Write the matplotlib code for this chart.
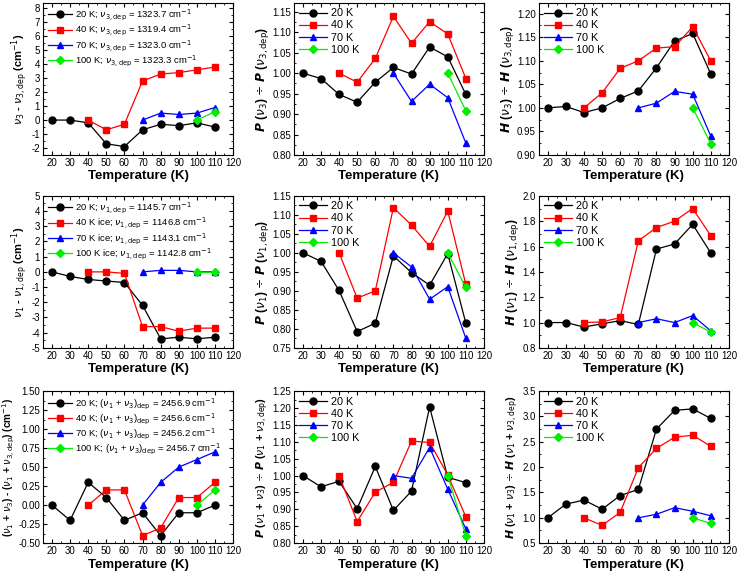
import matplotlib
matplotlib.use('Agg')
import matplotlib.pyplot as plt
from matplotlib.ticker import MultipleLocator

plt.rcParams['font.family'] = ['Liberation Sans', 'DejaVu Sans']
plt.rcParams['mathtext.fontset'] = 'dejavusans'

# deposition temperatures and the annealing temperatures each series covers
t20 = [20, 30, 40, 50, 60, 70, 80, 90, 100, 110]
t40 = [40, 50, 60, 70, 80, 90, 100, 110]
t70 = [70, 80, 90, 100, 110]
t100 = [100, 110]
series_names = ['20 K', '40 K', '70 K', '100 K']

# row 1: nu3
v3_20 = [0, 0, -0.2, -1.7, -1.9, -0.7, -0.3, -0.4, -0.2, -0.5]
v3_40 = [0, -0.7, -0.3, 2.8, 3.3, 3.4, 3.6, 3.8]
v3_70 = [0, 0.5, 0.4, 0.5, 0.9]
v3_100 = [0, 0.6]
p3_20 = [1.000, 0.987, 0.948, 0.929, 0.978, 1.014, 0.998, 1.064, 1.040, 0.948]
p3_40 = [1.000, 0.978, 1.036, 1.139, 1.073, 1.126, 1.096, 0.987]
p3_70 = [1.000, 0.931, 0.973, 0.940, 0.829]
p3_100 = [1.000, 0.908]
h3_20 = [1.000, 1.003, 0.990, 1.000, 1.020, 1.036, 1.085, 1.142, 1.158, 1.072]
h3_40 = [1.000, 1.032, 1.084, 1.100, 1.127, 1.130, 1.172, 1.100]
h3_70 = [1.000, 1.010, 1.035, 1.029, 0.940]
h3_100 = [1.000, 0.924]

# row 2: nu1
v1_20 = [0, -0.3, -0.5, -0.6, -0.7, -2.2, -4.4, -4.3, -4.4, -4.3]
v1_40 = [0, 0, -0.1, -3.6, -3.6, -3.9, -3.7, -3.7]
v1_70 = [0, 0.1, 0.1, 0, 0]
v1_100 = [0, 0]
p1_20 = [1.000, 0.978, 0.901, 0.793, 0.815, 0.992, 0.948, 0.915, 0.998, 0.815]
p1_40 = [1.000, 0.881, 0.900, 1.119, 1.073, 1.017, 1.110, 0.917]
p1_70 = [1.000, 0.963, 0.878, 0.911, 0.775]
p1_100 = [1.000, 0.909]
h1_20 = [1.0, 1.0, 0.965, 0.99, 1.015, 0.985, 1.58, 1.62, 1.775, 1.55]
h1_40 = [1.0, 1.005, 1.04, 1.645, 1.75, 1.80, 1.90, 1.685]
h1_70 = [1.0, 1.03, 1.0, 1.055, 0.935]
h1_100 = [1.0, 0.925]

# row 3: nu1 + nu3
vc_20 = [0, -0.2, 0.3, 0.1, -0.2, -0.1, -0.4, -0.1, -0.1, 0]
vc_40 = [0, 0.2, 0.2, -0.4, -0.3, 0.1, 0.1, 0.3]
vc_70 = [0, 0.3, 0.5, 0.6, 0.7]
vc_100 = [0, 0.2]
pc_20 = [1.000, 0.967, 0.983, 0.902, 1.027, 0.897, 0.954, 1.203, 0.995, 0.979]
pc_40 = [1.000, 0.864, 0.951, 0.980, 1.102, 1.098, 1.002, 0.878]
pc_70 = [1.000, 0.992, 1.083, 0.960, 0.842]
pc_100 = [1.000, 0.822]
hc_20 = [1.0, 1.27, 1.35, 1.17, 1.44, 1.56, 2.75, 3.12, 3.15, 2.96]
hc_40 = [1.0, 0.85, 1.11, 1.99, 2.37, 2.59, 2.63, 2.41]
hc_70 = [1.0, 1.07, 1.20, 1.13, 1.04]
hc_100 = [1.0, 0.89]

leg_v3 = [r'20 K; $\nu_{3,\mathrm{dep}}$ = 1323.7 cm$^{-1}$',
          r'40 K; $\nu_{3,\mathrm{dep}}$ = 1319.4 cm$^{-1}$',
          r'70 K; $\nu_{3,\mathrm{dep}}$ = 1323.0 cm$^{-1}$',
          r'100 K; $\nu_{3,\mathrm{dep}}$ = 1323.3 cm$^{-1}$']
leg_v1 = [r'20 K; $\nu_{1,\mathrm{dep}}$ = 1145.7 cm$^{-1}$',
          r'40 K ice; $\nu_{1,\mathrm{dep}}$ = 1146.8 cm$^{-1}$',
          r'70 K ice; $\nu_{1,\mathrm{dep}}$ = 1143.1 cm$^{-1}$',
          r'100 K ice; $\nu_{1,\mathrm{dep}}$ = 1142.8 cm$^{-1}$']
leg_vc = [r'20 K; ($\nu_1$ + $\nu_3$)$_\mathrm{dep}$ = 2456.9 cm$^{-1}$',
          r'40 K; ($\nu_1$ + $\nu_3$)$_\mathrm{dep}$ = 2456.6 cm$^{-1}$',
          r'70 K; ($\nu_1$ + $\nu_3$)$_\mathrm{dep}$ = 2456.2 cm$^{-1}$',
          r'100 K; ($\nu_1$ + $\nu_3$)$_\mathrm{dep}$ = 2456.7 cm$^{-1}$']

colors = ['black', '#ff0000', '#0000ff', '#00ee00']
markers = ['o', 's', '^', 'D']
msizes = [5, 4.5, 5, 4.2]
temps = [t20, t40, t70, t100]

panels = [
    ([v3_20, v3_40, v3_70, v3_100], leg_v3, r'$\nu_3$ - $\nu_{3,\mathrm{dep}}$ (cm$^{-1}$)', (-2.5, 8.4), 1, 0.5, '%d'),
    ([p3_20, p3_40, p3_70, p3_100], series_names, r'$\mathbfit{P}$ ($\nu_3$) $\div$ $\mathbfit{P}$ ($\nu_{3,\mathrm{dep}}$)', (0.80, 1.172), 0.05, 0.025, '%.2f'),
    ([h3_20, h3_40, h3_70, h3_100], series_names, r'$\mathbfit{H}$ ($\nu_3$) $\div$ $\mathbfit{H}$ ($\nu_{3,\mathrm{dep}}$)', (0.90, 1.223), 0.05, 0.025, '%.2f'),
    ([v1_20, v1_40, v1_70, v1_100], leg_v1, r'$\nu_1$ - $\nu_{1,\mathrm{dep}}$ (cm$^{-1}$)', (-5, 5), 1, 0.5, '%d'),
    ([p1_20, p1_40, p1_70, p1_100], series_names, r'$\mathbfit{P}$ ($\nu_1$) $\div$ $\mathbfit{P}$ ($\nu_{1,\mathrm{dep}}$)', (0.75, 1.15), 0.05, 0.025, '%.2f'),
    ([h1_20, h1_40, h1_70, h1_100], series_names, r'$\mathbfit{H}$ ($\nu_1$) $\div$ $\mathbfit{H}$ ($\nu_{1,\mathrm{dep}}$)', (0.8, 2.0), 0.2, 0.1, '%.1f'),
    ([vc_20, vc_40, vc_70, vc_100], leg_vc, r'($\nu_1$ + $\nu_3$) - ($\nu_1$ + $\nu_{3,\mathrm{dep}}$) (cm$^{-1}$)', (-0.5, 1.5), 0.25, 0.125, '%.2f'),
    ([pc_20, pc_40, pc_70, pc_100], series_names, r'$\mathbfit{P}$ ($\nu_1$ + $\nu_3$) $\div$ $\mathbfit{P}$ ($\nu_1$ + $\nu_{3,\mathrm{dep}}$)', (0.80, 1.25), 0.05, 0.025, '%.2f'),
    ([hc_20, hc_40, hc_70, hc_100], series_names, r'$\mathbfit{H}$ ($\nu_1$ + $\nu_3$) $\div$ $\mathbfit{H}$ ($\nu_1$ + $\nu_{3,\mathrm{dep}}$)', (0.5, 3.5), 0.5, 0.25, '%.1f'),
]

fig = plt.figure(figsize=(7.4, 5.76), dpi=100)
lefts = [0.058, 0.397, 0.728]
bottoms = [0.731, 0.396, 0.057]
w, h = 0.257, 0.264

for k, (vals, labels, ylab, ylim, major, minor, fmt) in enumerate(panels):
    r, c = divmod(k, 3)
    ax = fig.add_axes([lefts[c], bottoms[r], w, h])
    for tt, yy, col, mk, ms, lab in zip(temps, vals, colors, markers, msizes, labels):
        ax.plot(tt, yy, color=col, marker=mk, markersize=ms, lw=0.9, label=lab)
    ax.set_xlim(15, 120)
    ax.set_ylim(*ylim)
    ax.xaxis.set_major_locator(MultipleLocator(10))
    ax.xaxis.set_minor_locator(MultipleLocator(5))
    ax.yaxis.set_major_locator(MultipleLocator(major))
    ax.yaxis.set_minor_locator(MultipleLocator(minor))
    ax.yaxis.set_major_formatter(plt.FormatStrFormatter(fmt))
    ax.tick_params(which='both', direction='in', top=True, right=True, labelsize=7, pad=2)
    ax.tick_params(which='major', length=3)
    ax.tick_params(which='minor', length=1.5)
    ax.set_xlabel('Temperature (K)', fontsize=9.5, fontweight='bold', labelpad=2)
    if r == 2:
        ysize = 7.2 if c == 0 else 7.8
    else:
        ysize = 8 if c == 0 else 8.8
    ax.set_ylabel(ylab, fontsize=ysize, fontweight='bold', labelpad=1)
    ax.legend(loc='upper left', frameon=False, fontsize=6.8 if c == 0 else 7.8,
              handlelength=2.6, handletextpad=0.3,
              labelspacing=0.05 if c == 0 else 0.2,
              borderaxespad=0.2, borderpad=0.3)

fig.savefig('out.png', dpi=100)
